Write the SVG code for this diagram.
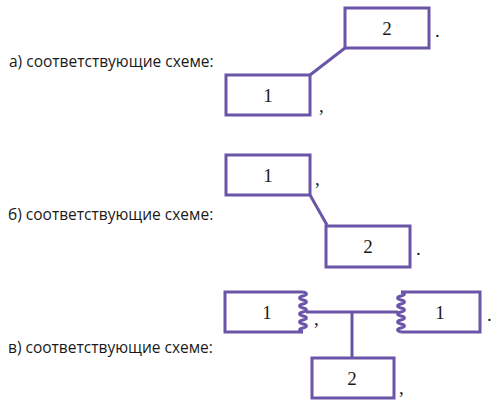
<svg xmlns="http://www.w3.org/2000/svg" width="502" height="410" viewBox="0 0 502 410">
<style>
.lbl{font-family:"Open Sans","Noto Sans",sans-serif;font-size:15.5px;fill:#1a1a1a}
.box{fill:#fff;stroke:#6b55a8;stroke-width:3}
.wire{fill:none;stroke:#6b55a8;stroke-width:3}
.num{font-family:"Liberation Serif","DejaVu Serif",serif;font-size:19px;fill:#1a1a1a;text-anchor:middle}
.pun{font-family:"Liberation Serif","DejaVu Serif",serif;font-size:19px;fill:#1a1a1a}
</style>
<rect width="502" height="410" fill="#fff"/>
<text class="lbl" x="9" y="67">а) соответствующие схеме:</text>
<text class="lbl" x="8" y="220">б) соответствующие схеме:</text>
<text class="lbl" x="8" y="353">в) соответствующие схеме:</text>
<g id="connectors">
<line class="wire" x1="310" y1="75" x2="345" y2="48"/>
<line class="wire" x1="310" y1="195" x2="327" y2="225"/>
<line class="wire" x1="306" y1="312" x2="398" y2="312"/>
<line class="wire" x1="352" y1="312" x2="352" y2="358"/>
</g>
<g id="a-node2">
<rect class="box" x="345" y="8" width="84" height="40"/>
<text class="num" x="387" y="35">2</text>
<text class="pun" x="435" y="37">.</text>
</g>
<g id="a-node1">
<rect class="box" x="226" y="75" width="84" height="40"/>
<text class="num" x="268" y="102">1</text>
<text class="pun" x="319" y="112">,</text>
</g>
<g id="b-node1">
<rect class="box" x="226" y="155" width="84" height="40"/>
<text class="num" x="268" y="182">1</text>
<text class="pun" x="315" y="185">,</text>
</g>
<g id="b-node2">
<rect class="box" x="326" y="226" width="84" height="41"/>
<text class="num" x="368" y="253">2</text>
<text class="pun" x="416" y="255">.</text>
</g>
<g id="c-node1-left">
<path class="wire" d="M303,292 H225 V332 H303"/>
<path class="wire" d="M303,292 c4.5,1 4.5,3 0,4 c-4.5,1 -4.5,3 0,4 c4.5,1 4.5,3 0,4 c-4.5,1 -4.5,3 0,4 c4.5,1 4.5,3 0,4 c-4.5,1 -4.5,3 0,4 c4.5,1 4.5,3 0,4 c-4.5,1 -4.5,3 0,4 c4.5,1 4.5,3 0,4 c-4.5,1 -4.5,3 0,4"/>
<text class="num" x="267" y="319">1</text>
<text class="pun" x="314" y="325">,</text>
</g>
<g id="c-node1-right">
<path class="wire" d="M401,292 H480 V332 H401"/>
<path class="wire" d="M401,292 c4.5,1 4.5,3 0,4 c-4.5,1 -4.5,3 0,4 c4.5,1 4.5,3 0,4 c-4.5,1 -4.5,3 0,4 c4.5,1 4.5,3 0,4 c-4.5,1 -4.5,3 0,4 c4.5,1 4.5,3 0,4 c-4.5,1 -4.5,3 0,4 c4.5,1 4.5,3 0,4 c-4.5,1 -4.5,3 0,4"/>
<text class="num" x="440" y="319">1</text>
<text class="pun" x="487" y="321">.</text>
</g>
<g id="c-node2">
<rect class="box" x="312" y="358" width="82" height="40"/>
<text class="num" x="352" y="385">2</text>
<text class="pun" x="399" y="394">,</text>
</g>
</svg>
